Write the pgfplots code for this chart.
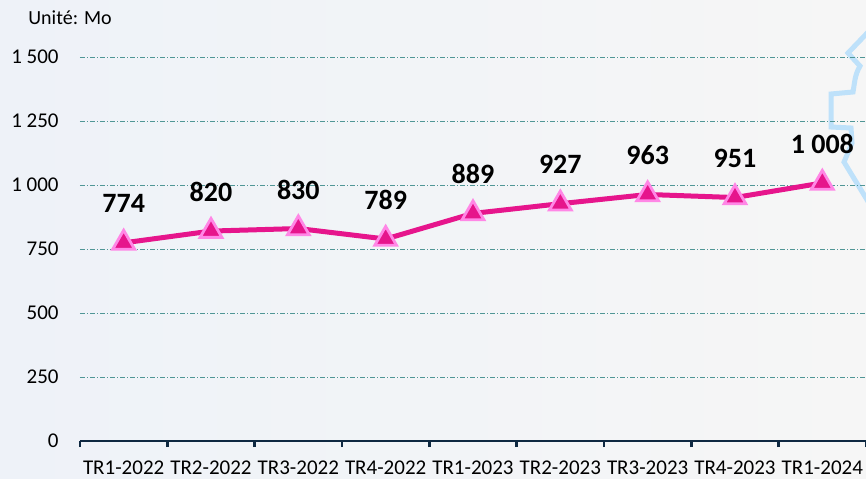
\documentclass[border=0pt]{standalone}
\usepackage{fontspec}
\setmainfont{Carlito}
\usepackage{pgfplots}
\pgfplotsset{compat=1.18}
\definecolor{linemag}{RGB}{230,21,140}
\definecolor{markborder}{RGB}{255,135,230}
\definecolor{gridteal}{RGB}{80,150,150}
\definecolor{axisnavy}{RGB}{14,40,65}
\definecolor{decoblue}{RGB}{190,225,250}
\begin{document}
\begin{tikzpicture}
\path[left color={rgb,255:red,238;green,242;blue,248}, right color={rgb,255:red,246;green,246;blue,246}] (-40pt,-18.5pt) rectangle (393pt,220.5pt);
\begin{scope}
\clip (-40pt,-18.5pt) rectangle (393pt,220.5pt);
\begin{scope}[shift={(-40pt,220.5pt)}, x=0.5pt, y=-0.5pt]
\draw[decoblue, line width=2.5pt, line join=miter] (872,28) -- (848,53) -- (860,66) to[out=-120,in=80] (853,92) -- (831,94) -- (831,127) -- (851,128) -- (852,143) -- (844,162) -- (872,208);
\end{scope}
\end{scope}
\begin{axis}[
  at={(0,0)}, anchor=south west,
  scale only axis, width=393pt, height=192pt,
  xmin=-0.5, xmax=8.5, ymin=0, ymax=1500,
  axis x line*=bottom, axis y line*=left,
  x axis line style={axisnavy, line width=1.4pt, -},
  y axis line style={draw=none},
  xtick={-0.5,0.5,...,8.5},
  xticklabels={TR1-2022,TR2-2022,TR3-2022,TR4-2022,TR1-2023,TR2-2023,TR3-2023,TR4-2023,TR1-2024,{}},
  xtick style={axisnavy, line width=1.2pt},
  tick align=outside,
  major tick length=3pt,
  xticklabel style={xshift=21.83pt, font=\fontsize{10.5}{12}\selectfont, text=black, yshift=-3.5pt},
  ytick={0,250,...,1500},
  ytick style={draw=none},
  yticklabel style={font=\fontsize{10.5}{12}\selectfont, text=black, inner sep=0pt, xshift=-7.5pt},
  /pgf/number format/assume math mode=true,
  /pgf/number format/1000 sep={\ },
  ymajorgrids,
  grid style={gridteal, line width=0.5pt, dash pattern=on 2.5pt off 1pt on 0.5pt off 1pt},
  clip=false,
  nodes near coords,
  every node near coord/.append style={font=\fontsize{14}{16}\bfseries\selectfont, text=black, anchor=center, yshift=19.5pt},
]
\addplot[linemag, line width=2.5pt, mark=triangle*, mark size=6.3pt,
  mark options={fill=linemag, draw=markborder, line width=1.4pt}]
  coordinates {(0,774) (1,820) (2,830) (3,789) (4,889) (5,927) (6,963) (7,951) (8,1008)};
\end{axis}
\node[anchor=west, inner sep=0pt, font=\fontsize{10}{12}\selectfont] at (-26pt,211.5pt) {Unité: Mo};
\pgfresetboundingbox
\path[use as bounding box] (-40pt,-18.5pt) rectangle (393pt,220.5pt);
\end{tikzpicture}
\end{document}
